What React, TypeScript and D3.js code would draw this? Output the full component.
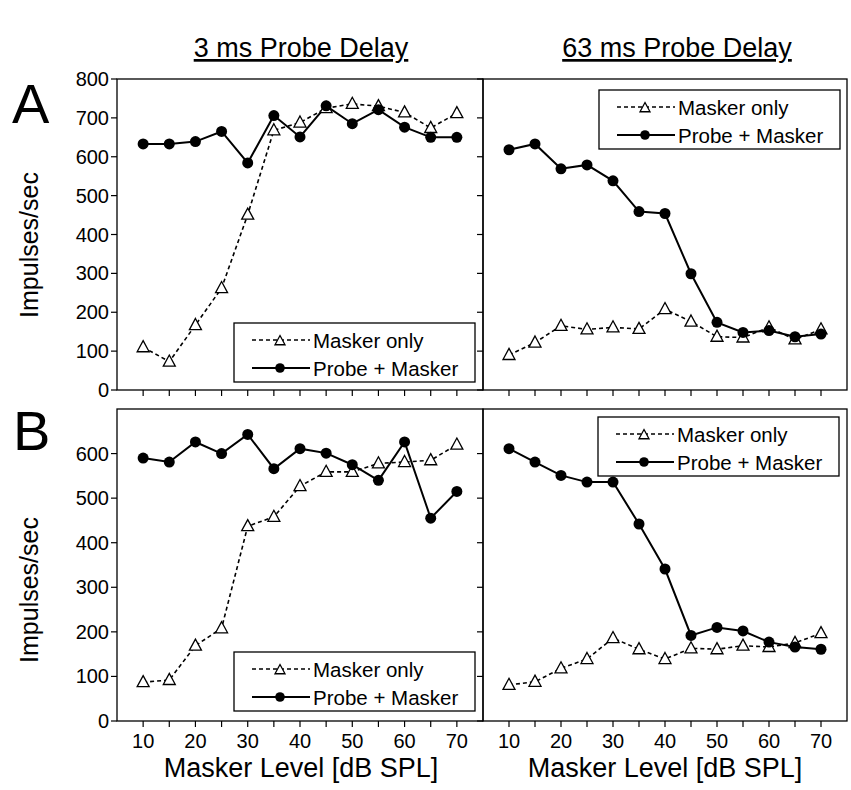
import React from "react";
import * as d3 from "d3";

const levels = [10, 15, 20, 25, 30, 35, 40, 45, 50, 55, 60, 65, 70];
const xTickLabels = [10, 20, 30, 40, 50, 60, 70];
const xMinorTicks = [10, 15, 20, 25, 30, 35, 40, 45, 50, 55, 60, 65, 70];
const yTicksTop = [0, 100, 200, 300, 400, 500, 600, 700, 800];
const yTicksBottom = [0, 100, 200, 300, 400, 500, 600];

const a3Masker = [110, 73, 167, 262, 451, 668, 688, 725, 736, 730, 714, 674, 712];
const a3Probe = [633, 633, 639, 665, 584, 706, 651, 731, 685, 721, 676, 650, 650];
const a63Masker = [90, 122, 165, 156, 161, 157, 208, 176, 137, 135, 161, 130, 156];
const a63Probe = [618, 633, 569, 579, 538, 459, 454, 299, 174, 148, 153, 137, 144];
const b3Masker = [87, 92, 169, 208, 437, 458, 527, 559, 559, 578, 581, 585, 620];
const b3Probe = [590, 581, 626, 600, 643, 566, 611, 601, 575, 540, 626, 455, 515];
const b63Masker = [81, 88, 118, 139, 186, 161, 139, 163, 161, 169, 166, 175, 197];
const b63Probe = [611, 581, 551, 536, 536, 442, 341, 192, 210, 202, 177, 166, 161];

const columnTitles = ["3 ms Probe Delay", "63 ms Probe Delay"];
const rowLetters = ["A", "B"];
const legendLabels = ["Masker only", "Probe + Masker"];
const xTitle = "Masker Level [dB SPL]";
const yTitle = "Impulses/sec";

const FONT = "'Liberation Sans', Arial, Helvetica, sans-serif";

const triPath = (s: number) =>
  `M0,${-s * 1.1}L${s},${s * 0.75}L${-s},${s * 0.75}Z`;

type PanelProps = {
  x: d3.ScaleLinear<number, number>;
  y: d3.ScaleLinear<number, number>;
  masker: number[];
  probe: number[];
  yTicks: number[];
  yLabels: boolean;
  xLabels: boolean;
  legend: [number, number];
};

function Legend({ lx, ly }: { lx: number; ly: number }) {
  const r1 = ly + 17;
  const r2 = ly + 45;
  return (
    <g>
      <rect x={lx} y={ly} width={241} height={59} fill="white" stroke="black" strokeWidth={1.3} />
      <line x1={lx + 18} x2={lx + 76} y1={r1} y2={r1} stroke="black" strokeWidth={1.6} strokeDasharray="4,3" />
      <path d={triPath(5)} transform={`translate(${lx + 46},${r1 + 1})`} fill="white" stroke="black" strokeWidth={1.3} />
      <text x={lx + 79} y={r1} dominantBaseline="central" fontSize={20.5} fontFamily={FONT}>
        {legendLabels[0]}
      </text>
      <line x1={lx + 18} x2={lx + 76} y1={r2} y2={r2} stroke="black" strokeWidth={2} />
      <circle cx={lx + 46} cy={r2} r={4.8} fill="black" />
      <text x={lx + 79} y={r2} dominantBaseline="central" fontSize={20.5} fontFamily={FONT}>
        {legendLabels[1]}
      </text>
    </g>
  );
}

function Panel({ x, y, masker, probe, yTicks, yLabels, xLabels, legend }: PanelProps) {
  const [x0, x1] = x.range();
  const [y0, y1] = y.range();
  const lineGen = d3
    .line<number>()
    .x((_, i) => x(levels[i]))
    .y((d) => y(d));
  return (
    <g>
      <rect x={x0} y={y1} width={x1 - x0} height={y0 - y1} fill="none" stroke="black" strokeWidth={1.3} />
      {yTicks.map((t) => (
        <g key={"y" + t}>
          <line x1={x0 - 6} x2={x0} y1={y(t)} y2={y(t)} stroke="black" strokeWidth={1.2} />
          {yLabels && (
            <text x={x0 - 8} y={y(t)} textAnchor="end" dominantBaseline="central" fontSize={20} fontFamily={FONT}>
              {t}
            </text>
          )}
        </g>
      ))}
      {xMinorTicks.map((t) => (
        <line key={"xm" + t} x1={x(t)} x2={x(t)} y1={y0} y2={y0 + 6} stroke="black" strokeWidth={1.2} />
      ))}
      {xLabels &&
        xTickLabels.map((t) => (
          <text key={"xl" + t} x={x(t)} y={y0 + 20} textAnchor="middle" dominantBaseline="central" fontSize={20} fontFamily={FONT}>
            {t}
          </text>
        ))}
      <path d={lineGen(masker) || ""} fill="none" stroke="black" strokeWidth={1.6} strokeDasharray="4,3" />
      <path d={lineGen(probe) || ""} fill="none" stroke="black" strokeWidth={2} />
      {masker.map((v, i) => (
        <path key={"m" + i} d={triPath(6)} transform={`translate(${x(levels[i])},${y(v)})`} fill="white" stroke="black" strokeWidth={1.3} />
      ))}
      {probe.map((v, i) => (
        <circle key={"p" + i} cx={x(levels[i])} cy={y(v)} r={5.5} fill="black" />
      ))}
      <Legend lx={legend[0]} ly={legend[1]} />
    </g>
  );
}

export default function App() {
  const xLeft = d3.scaleLinear().domain([5, 75]).range([117, 483]);
  const xRight = d3.scaleLinear().domain([5, 75]).range([483, 847]);
  const yTop = d3.scaleLinear().domain([0, 800]).range([390, 79]);
  const yBot = d3.scaleLinear().domain([0, 700]).range([721, 409]);

  return (
    <svg
      width={851}
      height={790}
      style={{ position: "absolute", left: 0, top: 0, background: "white" }}
    >
      <rect x={0} y={0} width={851} height={790} fill="white" />
      <text x={301} y={57} textAnchor="middle" fontSize={27} fontFamily={FONT} textDecoration="underline">
        {columnTitles[0]}
      </text>
      <text x={677} y={57} textAnchor="middle" fontSize={27} fontFamily={FONT} textDecoration="underline">
        {columnTitles[1]}
      </text>

      <text x={12} y={123} fontSize={56} fontFamily={FONT}>{rowLetters[0]}</text>
      <text x={13} y={450} fontSize={56} fontFamily={FONT}>{rowLetters[1]}</text>

      <text transform="translate(38,245) rotate(-90)" textAnchor="middle" fontSize={25} fontFamily={FONT}>{yTitle}</text>
      <text transform="translate(38,590) rotate(-90)" textAnchor="middle" fontSize={25} fontFamily={FONT}>{yTitle}</text>

      <Panel x={xLeft} y={yTop} masker={a3Masker} probe={a3Probe} yTicks={yTicksTop} yLabels={true} xLabels={false} legend={[234, 323]} />
      <Panel x={xRight} y={yTop} masker={a63Masker} probe={a63Probe} yTicks={yTicksTop} yLabels={false} xLabels={false} legend={[599, 90]} />
      <Panel x={xLeft} y={yBot} masker={b3Masker} probe={b3Probe} yTicks={yTicksBottom} yLabels={true} xLabels={true} legend={[234, 652]} />
      <Panel x={xRight} y={yBot} masker={b63Masker} probe={b63Probe} yTicks={yTicksBottom} yLabels={false} xLabels={true} legend={[598, 417]} />

      <text x={301} y={777} textAnchor="middle" fontSize={27} fontFamily={FONT}>{xTitle}</text>
      <text x={665} y={777} textAnchor="middle" fontSize={27} fontFamily={FONT}>{xTitle}</text>
    </svg>
  );
}
